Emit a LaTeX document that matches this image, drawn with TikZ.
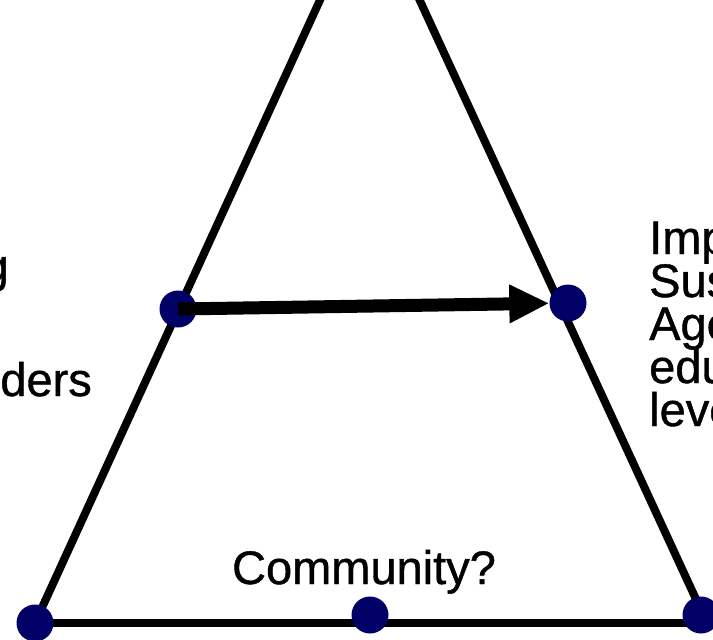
\documentclass[tikz,border=0pt]{standalone}
\usepackage{fontspec}
\setmainfont{Liberation Sans}[RawFeature={embolden=0.9}]
\usetikzlibrary{arrows.meta}
\pgfdeclarelayer{bg}
\pgfsetlayers{bg,main}
\definecolor{navy}{HTML}{000066}
\begin{document}
\begin{tikzpicture}[x=1pt,y=-1pt,
  dot/.style={circle,fill=navy,draw=none,inner sep=0pt,minimum size=37pt},
  edge/.style={line width=8pt,draw=black},
  bigarrow/.style={line width=13pt,-{Triangle[length=40pt,width=36pt]}},
  lbl/.style={font=\fontsize{47}{50}\selectfont,inner sep=0pt,text=black}]
\useasboundingbox (0,0) rectangle (713,640);
\clip (0,0) rectangle (713,640);
% dots
\node[dot] (BL) at (35,623) {};
\node[dot] (BM) at (370,615) {};
\node[dot] (BR) at (701,615) {};
\node[dot] (L) at (178,309) {};
\node[dot] (R) at (568,303) {};
% free ends
\coordinate (TL) at (324.6,-10);
\coordinate (TR) at (415,-10);
\coordinate (BE) at (730,623);
\begin{pgfonlayer}{bg}
  \draw[edge] (TL) -- (BL.center);
  \draw[edge] (TR) -- (707,623);
  \draw[edge] (BL.center) -- (BE);
\end{pgfonlayer}
\draw[bigarrow] (L.center) -- (R);
% texts
\node[lbl,anchor=base east] (g) at (9,282) {g};
\node[lbl,anchor=base east] (ders) at (92,396) {ders};
\node[lbl,anchor=base west] (r1) at (649,254) {Imp};
\node[lbl,anchor=base west] (r2) at (649,297) {Sus};
\node[lbl,anchor=base west] (r3) at (649,340) {Age};
\node[lbl,anchor=base west] (r4) at (649,383) {edu};
\node[lbl,anchor=base west] (r5) at (649,426) {leve};
\node[lbl,anchor=base] (comm) at (364,584) {Community?};
\end{tikzpicture}
\end{document}
